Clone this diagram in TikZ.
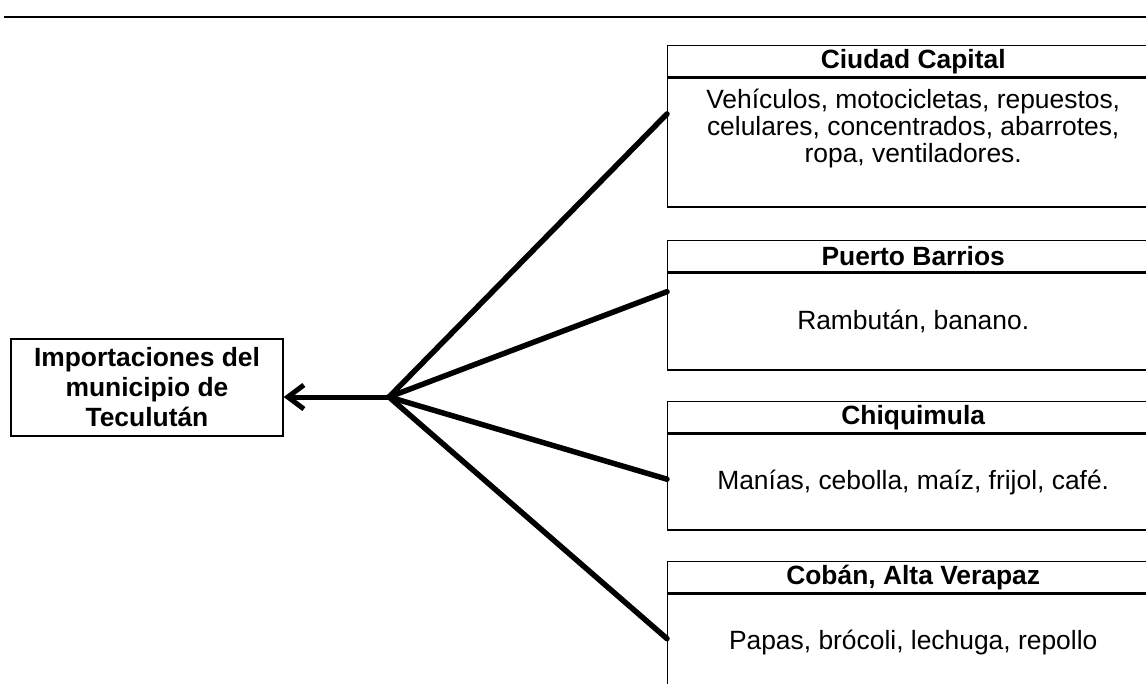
\documentclass[tikz,border=0pt]{standalone}
\usepackage{fontspec}
\setmainfont{Liberation Sans}
\usetikzlibrary{arrows.meta,calc}
\begin{document}
\begin{tikzpicture}[x=1pt,y=-1pt,
  conn/.style={line width=5.5pt, line cap=round},
  hdr/.style={draw, line width=1.4pt, minimum width=491pt, minimum height=31pt, inner sep=0pt, anchor=north west, font=\bfseries\fontsize{26.4}{25.5}\selectfont},
  bodybox/.style={draw, line width=1.4pt, minimum width=491pt, inner sep=0pt, anchor=north west, align=center, font=\fontsize{26.4}{25.5}\selectfont},
  mainbox/.style={draw, line width=1.4pt, minimum width=272pt, minimum height=97pt, inner sep=0pt, align=center, font=\bfseries\fontsize{26.4}{30}\selectfont}
]
\useasboundingbox (0,0) rectangle (1146,683);
\fill[white] (0,0) rectangle (1146,683);
\clip (0,0) rectangle (1146,683);

% top rule
\coordinate (tl) at (4,17);
\coordinate (tr) at (1146,17);
\draw[line width=2.2pt] (tl) -- (tr);

% right boxes
\node[hdr] (h1) at (667,45) {Ciudad Capital};
\node[bodybox, minimum height=129pt] (b1) at (h1.south west) {\raisebox{13pt}[\height][\depth]{\begin{tabular}{@{}c@{}}Vehículos, motocicletas, repuestos,\\celulares, concentrados, abarrotes,\\ropa, ventiladores.\end{tabular}}};

\node[hdr] (h2) at (667,240) {Puerto Barrios};
\node[bodybox, minimum height=97pt] (b2) at (h2.south west) {Rambután, banano.};

\node[hdr] (h3) at (667,401) {Chiquimula};
\node[bodybox, minimum height=96pt] (b3) at (h3.south west) {Manías, cebolla, maíz, frijol, café.};

\node[hdr] (h4) at (667,561) {Cobán, Alta Verapaz};
\node[bodybox, minimum height=97pt] (b4) at (h4.south west) {Papas, brócoli, lechuga, repollo};

% left box
\node[mainbox] (lb) at (147,387.5) {Importaciones del\\municipio de\\Teculután};

% connectors
\coordinate (hub) at (389,397);
\draw[conn] (hub) -- ($(b1.north west)!0.28!(b1.south west)$);
\draw[conn] (hub) -- ($(b2.north west)!0.196!(b2.south west)$);
\draw[conn] (hub) -- ($(b3.north west)!0.47!(b3.south west)$);
\draw[conn] (hub) -- ($(b4.north west)!0.46!(b4.south west)$);
\draw[line width=5pt, -{Straight Barb[length=16pt,width=24pt]}] (hub) -- (hub -| lb.east);
\end{tikzpicture}
\end{document}
